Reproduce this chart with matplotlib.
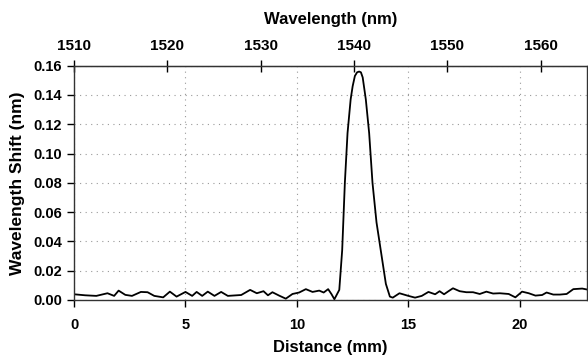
import matplotlib
matplotlib.use("Agg")
import matplotlib.pyplot as plt

plt.rcParams['font.family'] = ['Liberation Sans', 'DejaVu Sans']
plt.rcParams['font.weight'] = 'bold'

# distance along grating (mm) and measured wavelength shift (nm)
distance = [0.0, 0.5, 1.0, 1.5, 1.8, 2.0, 2.3, 2.6, 3.0, 3.3, 3.6, 4.0, 4.3, 4.6,
            5.0, 5.3, 5.5, 5.75, 6.0, 6.3, 6.6, 6.9, 7.5, 7.9, 8.2, 8.5, 8.7, 8.9,
            9.2, 9.5, 9.8, 10.1, 10.4, 10.7, 11.0, 11.2, 11.4, 11.55, 11.68,
            11.9, 12.03, 12.15, 12.27, 12.41, 12.5, 12.6, 12.7, 12.79, 12.87,
            12.95, 13.09, 13.24, 13.39, 13.57, 13.8, 13.99, 14.17, 14.3, 14.6,
            15.0, 15.3, 15.6, 15.9, 16.2, 16.4, 16.6, 16.8, 17.0, 17.3, 17.6,
            17.9, 18.2, 18.5, 18.8, 19.1, 19.5, 19.8, 20.1, 20.4, 20.7, 21.0,
            21.2, 21.5, 21.8, 22.1, 22.4, 22.8, 23.1]
shift = [0.0039, 0.0032, 0.0028, 0.0046, 0.0028, 0.0064, 0.0035, 0.0028, 0.0055,
         0.0053, 0.0028, 0.0018, 0.0057, 0.0023, 0.0055, 0.0028, 0.0055, 0.0028,
         0.0057, 0.0028, 0.0055, 0.0028, 0.0034, 0.0069, 0.0046, 0.0060, 0.0032,
         0.0053, 0.0030, 0.0009, 0.0041, 0.0051, 0.0074, 0.0055, 0.0064, 0.0051,
         0.0074, 0.0040, 0.0005,
         0.0069, 0.034, 0.080, 0.114, 0.137, 0.146, 0.153, 0.1555, 0.156, 0.1555,
         0.152, 0.137, 0.114, 0.080, 0.053, 0.030, 0.011, 0.0023, 0.0016,
         0.0046, 0.0028, 0.0016, 0.0028, 0.0055, 0.0039, 0.0060, 0.0039, 0.0060,
         0.0080, 0.0060, 0.0053, 0.0053, 0.0041, 0.0057, 0.0044, 0.0046, 0.0041,
         0.0018, 0.0057, 0.0046, 0.0030, 0.0034, 0.0051, 0.0037, 0.0037, 0.0041,
         0.0074, 0.0078, 0.0069]

dist_ticks = [0, 5, 10, 15, 20]
wl_ticks = [1510, 1520, 1530, 1540, 1550, 1560]
shift_ticks = [0.00, 0.02, 0.04, 0.06, 0.08, 0.10, 0.12, 0.14, 0.16]

wl0 = 1510.0
nm_per_mm = 2.388

fig = plt.figure(figsize=(5.88, 3.63), dpi=100)
ax = fig.add_axes([0.1259, 0.1736, 0.8719, 0.6454])

ax.plot(distance, shift, color='black', linewidth=1.3)

ax.set_xlim(0, 23.0)
ax.set_ylim(0, 0.16)
ax.set_xticks(dist_ticks)
ax.set_yticks(shift_ticks)
ax.set_yticklabels(['%.2f' % v for v in shift_ticks])
ax.grid(True, color='#999999', linestyle=(0, (1, 4)), linewidth=0.8)

ax.tick_params(axis='both', labelsize=10.5, direction='out', length=5, width=1)
ax.tick_params(axis='x', pad=8)
ax.set_xlabel('Distance (mm)', fontsize=12, fontweight='bold', labelpad=6)
ax.set_ylabel('Wavelength Shift (nm)', fontsize=12.5, fontweight='bold', labelpad=6)

for s in ax.spines.values():
    s.set_linewidth(1.0)
    s.set_color('#333333')

top = ax.secondary_xaxis('top', functions=(lambda d: wl0 + d * nm_per_mm,
                                           lambda w: (w - wl0) / nm_per_mm))
top.set_xticks(wl_ticks)
top.tick_params(labelsize=11, direction='inout', length=8, width=1, pad=5)
for lab in top.get_xticklabels():
    lab.set_fontweight('bold')
top.set_xlabel('Wavelength (nm)', fontsize=12, fontweight='bold', labelpad=11)

fig.savefig('out.png', dpi=100)
